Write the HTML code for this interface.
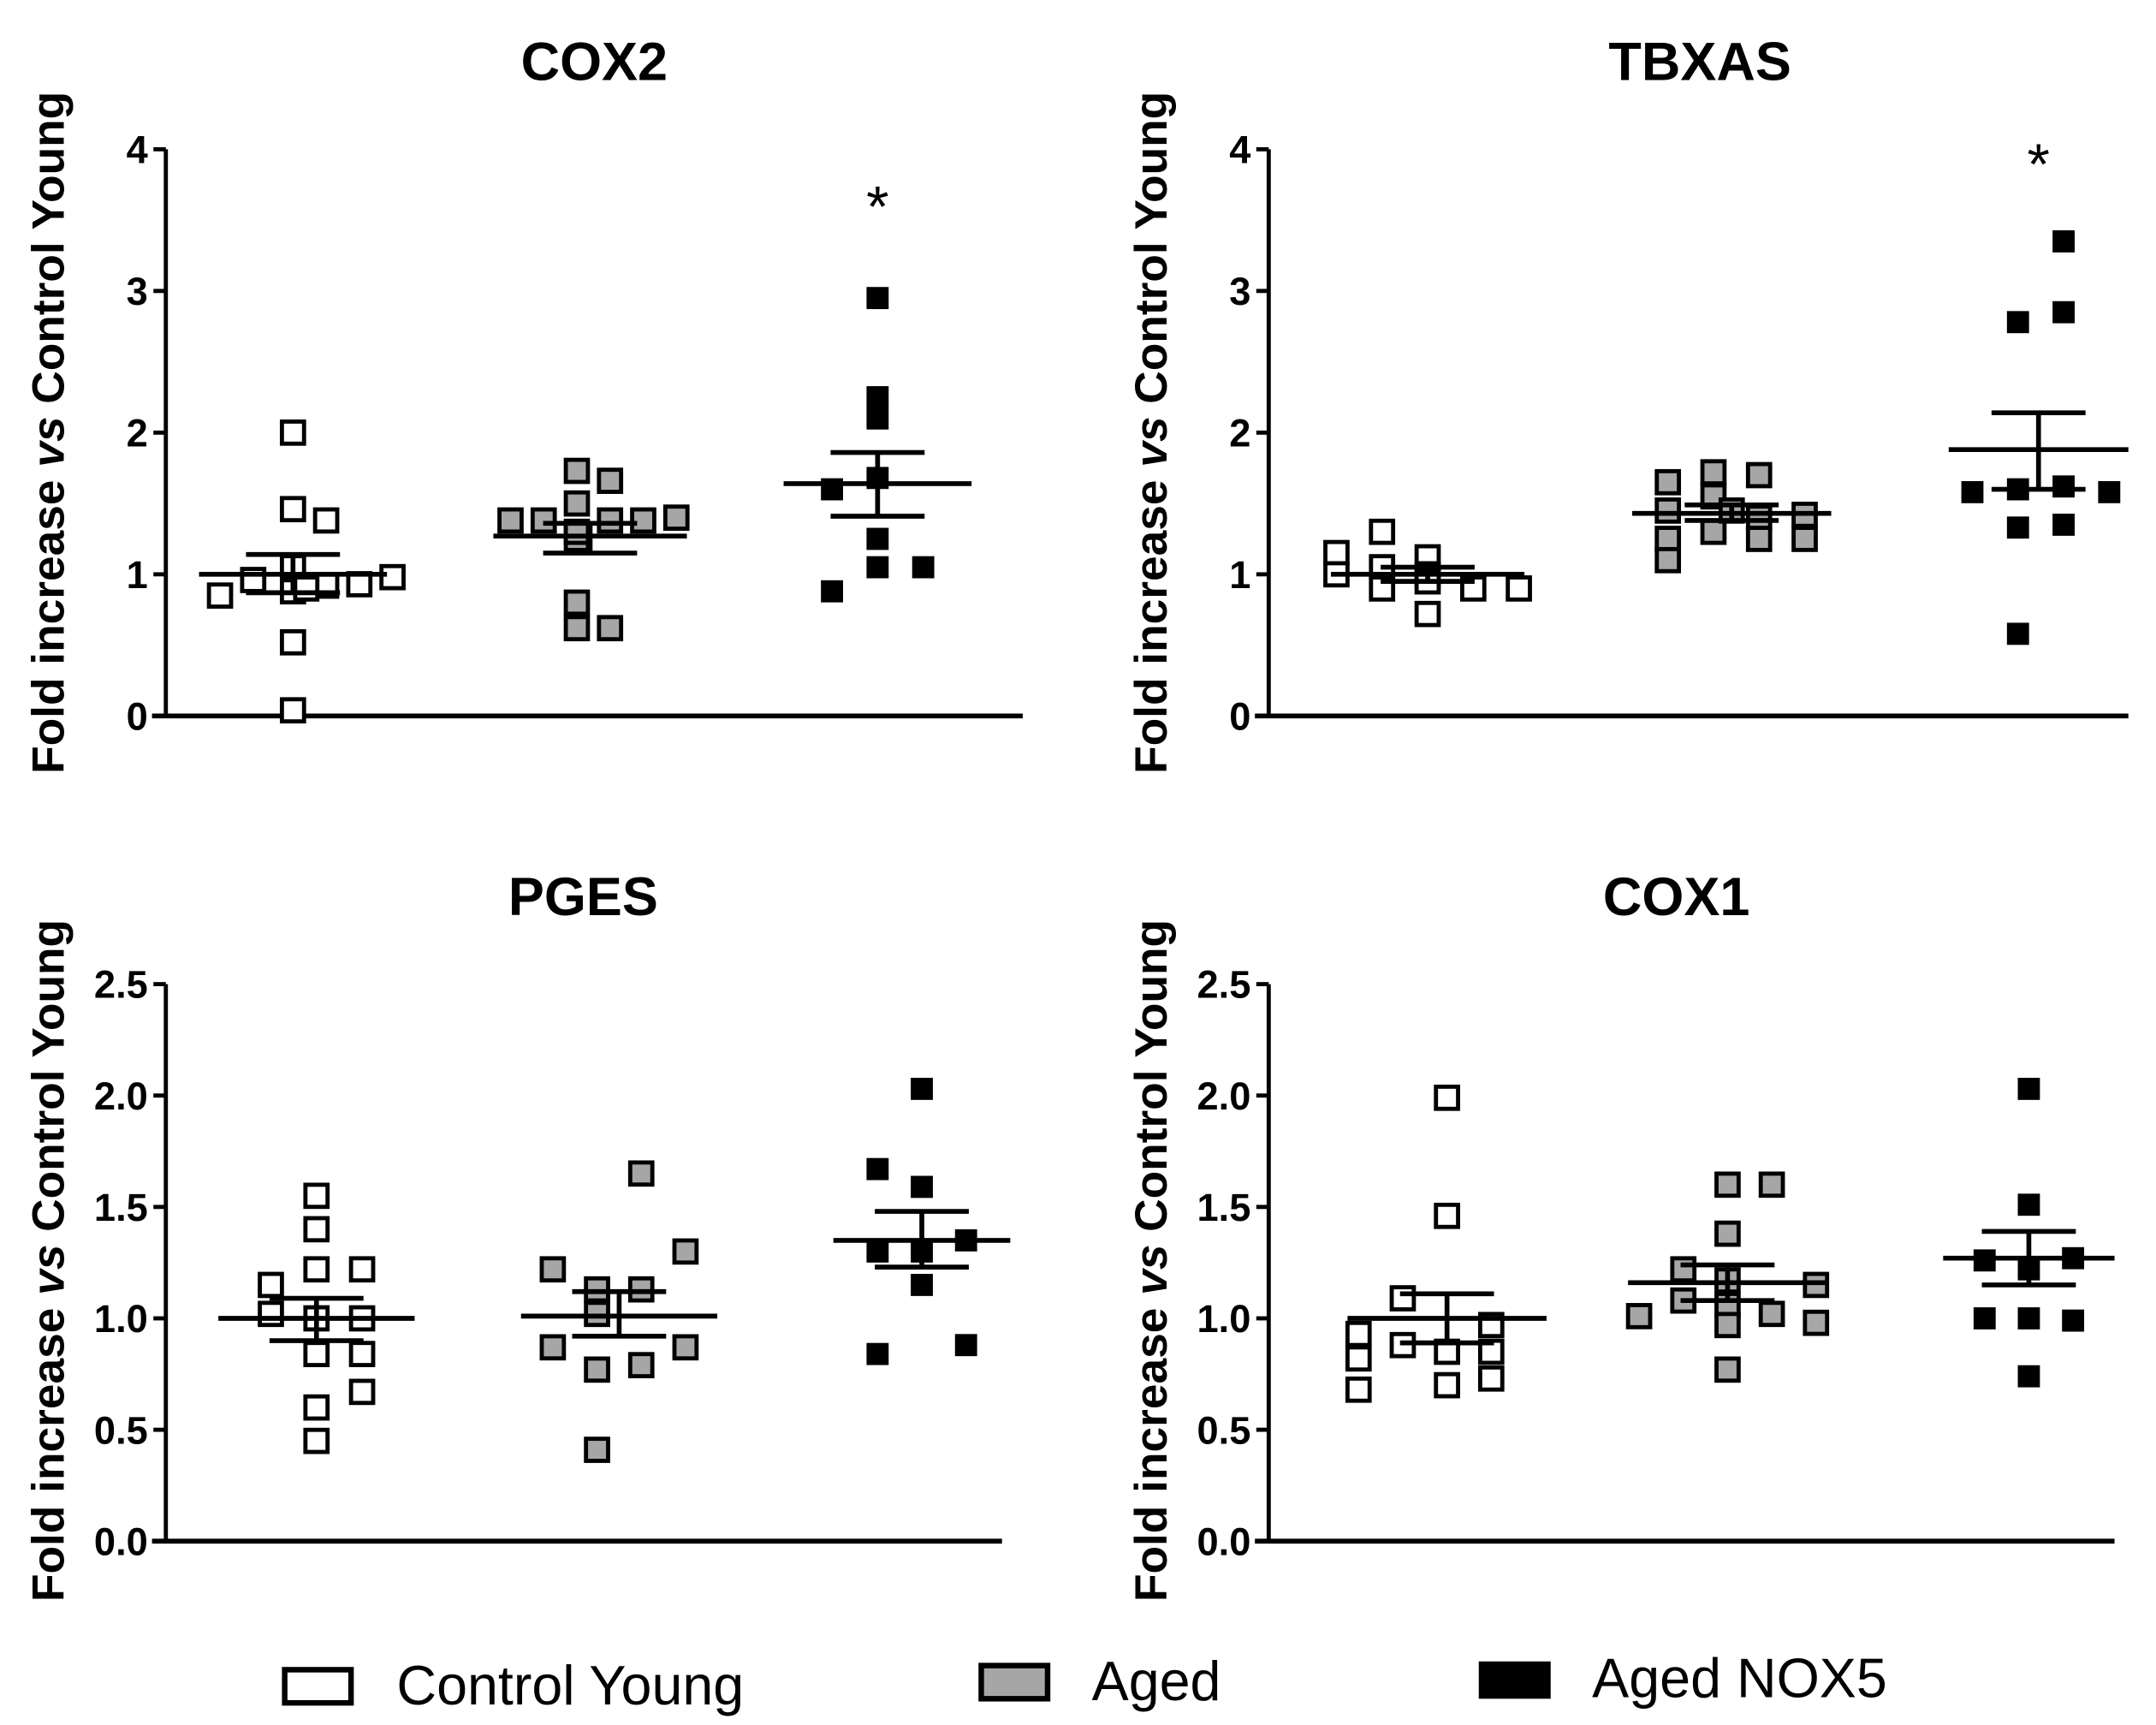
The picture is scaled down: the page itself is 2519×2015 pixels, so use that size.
<!DOCTYPE html>
<html><head><meta charset="utf-8"><style>
html,body{margin:0;padding:0;background:#fff;}
svg{display:block;}
text{font-family:"Liberation Sans",Arial,sans-serif;}
</style></head><body>
<svg id="fig" width="2519" height="2015" viewBox="0 0 1560 1248" preserveAspectRatio="none" xmlns="http://www.w3.org/2000/svg"></svg>
<script>
// ---- data ----
const groups = ["Control Young","Aged","Aged NOX5"];
const fills = ["#ffffff","#a6a6a6","#000000"];
// COX2
const cox2CY = [0.85,0.96,2.0,1.46,1.38,1.05,0.88,0.92,0.93,0.98,0.52,0.04,0.9];
const cox2CYslot = [-2.2,-1.2,0,0,1,0,0,1,2,3,0,0,0.4];
const cox2AG = [1.38,1.38,1.73,1.5,1.66,1.38,1.38,1.4,1.25,0.8,0.62,0.62,1.3];
const cox2AGslot = [-2.4,-1.4,-0.4,-0.4,0.6,0.6,1.6,2.6,-0.4,-0.4,-0.4,0.6,-0.4];
const cox2NX = [2.95,2.25,2.1,1.6,1.68,1.25,1.05,1.05,0.88];
const cox2NXslot = [0,0,0,-1.0,0,0,0,1.0,-1.0];
const cox2Mean = [1.0,1.27,1.64];
const cox2Hi = [1.14,1.36,1.86];
const cox2Lo = [0.87,1.15,1.41];
// TBXAS
const tbxCY = [1.15,1.0,1.3,1.05,0.9,1.12,1.0,0.72,0.9,0.9,0.95];
const tbxCYslot = [-2,-2,-1,-1,-1,0,0,0,1,2,0];
const tbxAG = [1.65,1.45,1.25,1.1,1.72,1.55,1.3,1.7,1.4,1.25,1.42,1.25,1.45];
const tbxAGslot = [-1.4,-1.4,-1.4,-1.4,-0.4,-0.4,-0.4,0.6,0.6,0.6,1.6,1.6,0];
const tbxNX = [3.35,2.85,2.78,1.58,1.6,1.62,1.58,1.33,1.35,0.58];
const tbxNXslot = [0.55,0.55,-0.45,-1.45,-0.45,0.55,1.55,-0.45,0.55,-0.45];
const tbxMean = [1.0,1.43,1.88];
const tbxHi = [1.05,1.49,2.14];
const tbxLo = [0.95,1.38,1.6];
// PGES
const pgCY = [1.55,1.4,1.15,1.22,1.22,1.02,1.0,0.84,0.84,0.67,0.6,0.45,1.0];
const pgCYslot = [0,0,-1,0,1,-1,1,0,1,1,0,0,0];
const pgAG = [1.65,1.22,1.3,1.13,1.13,1.02,0.87,0.87,0.77,0.79,0.41];
const pgAGslot = [0.5,-1.5,1.5,-0.5,0.5,-0.5,-1.5,1.5,-0.5,0.5,-0.5];
const pgNX = [2.03,1.67,1.59,1.35,1.3,1.3,1.15,0.84,0.88];
const pgNXslot = [0,-1,0,1,-1,0,0,-1,1];
const pgMean = [1.0,1.01,1.35];
const pgHi = [1.09,1.12,1.48];
const pgLo = [0.9,0.92,1.23];
// COX1
const c1CY = [1.99,1.46,1.09,0.93,0.82,0.68,0.88,0.85,0.7,0.97,0.85,0.73];
const c1CYslot = [0,0,-1,-2,-2,-2,-1,0,0,1,1,1];
const c1AG = [1.22,1.08,1.01,1.6,1.6,1.38,1.17,1.06,0.97,0.77,1.02,1.15,0.98];
const c1AGslot = [-1,-1,-2,0,1,0,0,0,0,0,1,2,2];
const c1NX = [2.03,1.51,1.26,1.27,1.22,1.0,1.0,0.99,0.74];
const c1NXslot = [0,0,-1,1,0,0,-1,1,0];
const c1Mean = [1.0,1.16,1.27];
const c1Hi = [1.11,1.24,1.39];
const c1Lo = [0.89,1.08,1.15];

const panels = [
 {name:"cox2",title:"COX2",ax:120,x1:740,y0:518,yTop:108,max:4,ticks:["0","1","2","3","4"],step:1,
  centers:[212,427,635],slotW:[24,24,33],half:[68,70,68],star:3.65,titleX:430,titleY:58,labX:46,labY:313,
  vals:[cox2CY,cox2AG,cox2NX],slots:[cox2CYslot,cox2AGslot,cox2NXslot],mean:cox2Mean,hi:cox2Hi,lo:cox2Lo},
 {name:"tbxas",title:"TBXAS",ax:918,x1:1540,y0:518,yTop:108,max:4,ticks:["0","1","2","3","4"],step:1,
  centers:[1033,1253,1475],slotW:[33,33,33],half:[70,72,65],star:3.95,titleX:1230,titleY:58,labX:844,labY:313,
  vals:[tbxCY,tbxAG,tbxNX],slots:[tbxCYslot,tbxAGslot,tbxNXslot],mean:tbxMean,hi:tbxHi,lo:tbxLo},
 {name:"pges",title:"PGES",ax:120,x1:725,y0:1115,yTop:712,max:2.5,ticks:["0.0","0.5","1.0","1.5","2.0","2.5"],step:0.5,
  centers:[229,448,667],slotW:[33,32,32],half:[71,71,64],star:null,titleX:422,titleY:662,labX:46,labY:912,
  vals:[pgCY,pgAG,pgNX],slots:[pgCYslot,pgAGslot,pgNXslot],mean:pgMean,hi:pgHi,lo:pgLo},
 {name:"cox1",title:"COX1",ax:918,x1:1530,y0:1115,yTop:712,max:2.5,ticks:["0.0","0.5","1.0","1.5","2.0","2.5"],step:0.5,
  centers:[1047,1250,1468],slotW:[32,32,32],half:[72,72,62],star:null,titleX:1213,titleY:662,labX:844,labY:912,
  vals:[c1CY,c1AG,c1NX],slots:[c1CYslot,c1AGslot,c1NXslot],mean:c1Mean,hi:c1Hi,lo:c1Lo}
];

const NS="http://www.w3.org/2000/svg";
const svg=document.getElementById('fig');
function mk(tag,attrs,parent,txt){const e=document.createElementNS(NS,tag);for(const k in attrs)e.setAttribute(k,attrs[k]);if(txt!=null)e.textContent=txt;(parent||svg).appendChild(e);return e;}

panels.forEach(p=>{
  const g=mk('g',{});
  
  
  const y=v=>p.y0-(v/p.max)*(p.y0-p.yTop);
  const t=mk('text',{x:p.titleX,y:p.titleY,'text-anchor':'middle','font-size':39,'font-weight':'bold'},g,p.title);
  
  
  const yl=mk('text',{transform:`translate(${p.labX},${p.labY}) rotate(-90)`,'text-anchor':'middle','font-size':33,'font-weight':'bold'},g);
  
  
  mk('tspan',{},yl,'Fold increase ');mk('tspan',{'font-style':'italic'},yl,'vs');mk('tspan',{},yl,' Control Young');
  const ya=mk('line',{x1:p.ax,y1:p.yTop,x2:p.ax,y2:p.y0,stroke:'#000','stroke-width':3},g);
  
  
  const xa=mk('line',{x1:p.ax-10,y1:p.y0,x2:p.x1,y2:p.y0,stroke:'#000','stroke-width':3.5},g);
  
  
  p.ticks.forEach((lab,i)=>{
    const v=i*p.step, yy=y(v);
    mk('line',{x1:p.ax-9,y1:yy,x2:p.ax,y2:yy,stroke:'#000','stroke-width':3},g);
    const tl=mk('text',{x:p.ax-13,y:yy+10,'text-anchor':'end','font-size':28,'font-weight':'bold'},g,lab);
    
    
  });
  p.vals.forEach((arr,gi)=>{
    arr.forEach((v,j)=>{
      const cx=p.centers[gi]+p.slots[gi][j]*p.slotW[gi];
      const r=mk('rect',{x:cx-8,y:y(v)-8,width:16,height:16,fill:fills[gi],stroke:'#000','stroke-width':gi==2?0:3},g);
      
      
    });
    const c=p.centers[gi], h=p.half[gi];
    const ml=mk('line',{x1:c-h,y1:y(p.mean[gi]),x2:c+h,y2:y(p.mean[gi]),stroke:'#000','stroke-width':3.5},g);
    
    
    const eb=mk('path',{d:`M${c-34},${y(p.hi[gi])}H${c+34}M${c-34},${y(p.lo[gi])}H${c+34}M${c},${y(p.hi[gi])}V${y(p.lo[gi])}`,stroke:'#000','stroke-width':3.5,fill:'none'},g);
    
    
  });
  if(p.star!=null){
    const s=mk('text',{x:p.centers[2],y:y(p.star)+20,'text-anchor':'middle','font-size':42},g,'*');
    
    
  }
});
</script>
<svg style="position:absolute;left:0;top:0" width="2519" height="2015" viewBox="0 0 1560 1248" preserveAspectRatio="none" xmlns="http://www.w3.org/2000/svg">
 <g>
  <g>
   <rect x="206" y="1208" width="48" height="24" fill="#fff" stroke="#000" stroke-width="4"/>
   <text x="287" y="1233" font-size="40">Control Young</text>
  </g>
  <g>
   <rect x="710" y="1205" width="48" height="24" fill="#a6a6a6" stroke="#000" stroke-width="4"/>
   <text x="790" y="1230" font-size="40">Aged</text>
  </g>
  <g>
   <rect x="1070" y="1202" width="52" height="27" fill="#000"/>
   <text x="1152" y="1228" font-size="40">Aged NOX5</text>
  </g>
 </g>
</svg>
</body></html>
